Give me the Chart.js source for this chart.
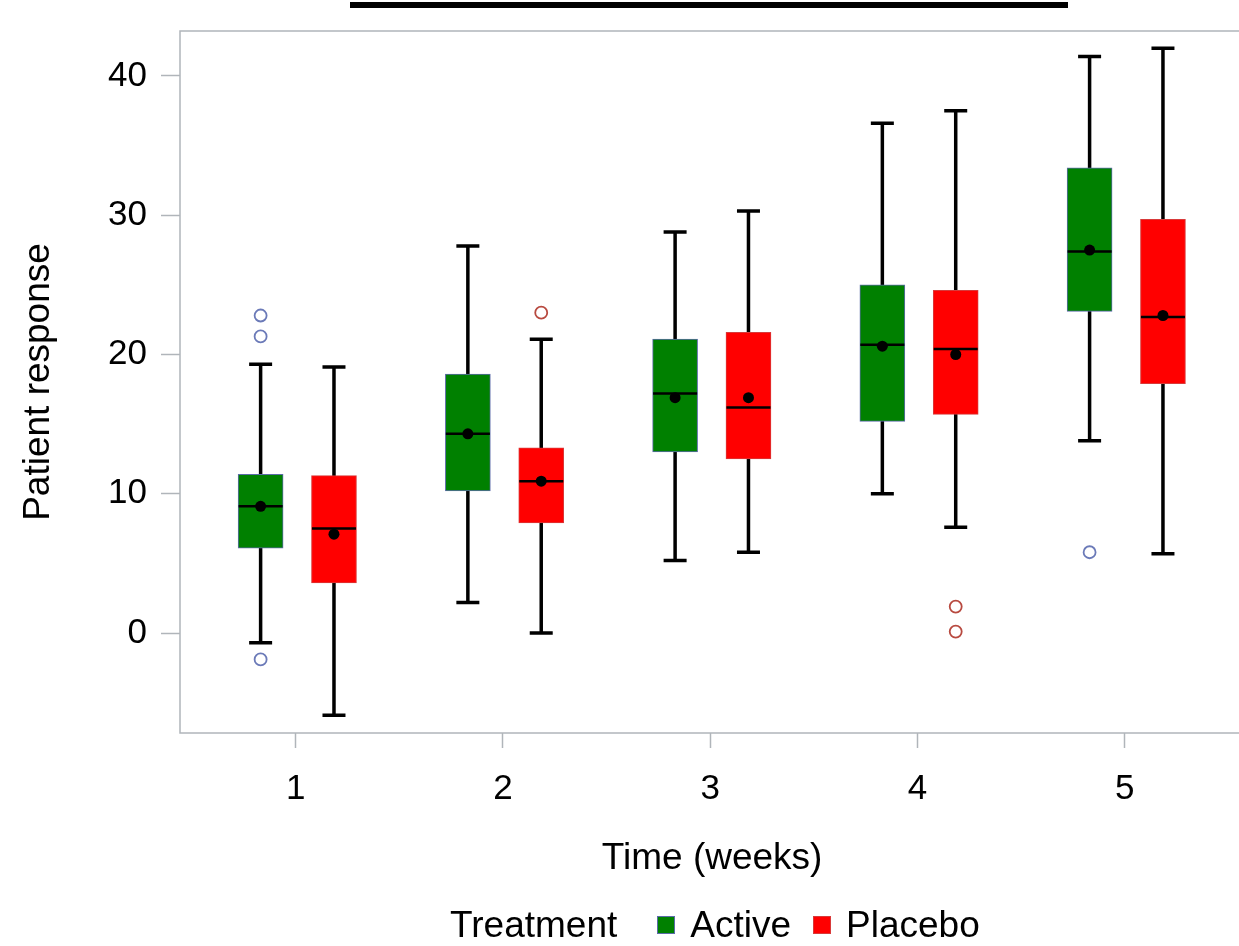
<!DOCTYPE html>
<html>
<head>
<meta charset="utf-8">
<script src="https://cdn.jsdelivr.net/npm/chart.js@4"></script>
<style>
  body { margin: 0; overflow: hidden; background: #fff; }
  #wrap { position: relative; width: 1252px; height: 946px; font-family: "Liberation Sans", Arial, sans-serif; }
  #topbar { position: absolute; left: 350px; top: 2px; width: 718px; height: 6px; background: #000; }
  #legend { position: absolute; left: 450px; top: 903px; height: 44px; display: flex; align-items: center; font-size: 37px; color: #000; white-space: nowrap; }
  #legend .sw { display: inline-block; width: 16px; height: 16px; border: 1px solid; margin-right: 15px; }
</style>
</head>
<body>
<div id="wrap">
  <canvas id="chart" width="1252" height="946"></canvas>
  <div id="topbar"></div>
  <div id="legend"></div>
</div>
<script>
// weeks on the x axis
const weeks = [1, 2, 3, 4, 5];
const yTicks = [0, 10, 20, 30, 40];

// Active treatment
const activeMin    = [-0.7, 2.2, 5.2, 10.0, 13.8];
const activeQ1     = [6.1, 10.2, 13.0, 15.2, 23.1];
const activeMedian = [9.1, 14.3, 17.2, 20.7, 27.4];
const activeQ3     = [11.4, 18.6, 21.1, 25.0, 33.4];
const activeMax    = [19.3, 27.8, 28.8, 36.6, 41.4];
const activeMean   = [9.1, 14.3, 16.9, 20.6, 27.5];
const activeOutliers = [[1, 22.8], [1, 21.3], [1, -1.9], [5, 5.8]];

// Placebo
const placeboMin    = [-5.9, 0.0, 5.8, 7.6, 5.7];
const placeboQ1     = [3.6, 7.9, 12.5, 15.7, 17.9];
const placeboMedian = [7.5, 10.9, 16.2, 20.4, 22.7];
const placeboQ3     = [11.3, 13.3, 21.6, 24.6, 29.7];
const placeboMax    = [19.1, 21.1, 30.3, 37.5, 42.0];
const placeboMean   = [7.1, 10.9, 16.9, 20.0, 22.8];
const placeboOutliers = [[2, 23.0], [4, 1.9], [4, 0.1]];

const groups = [
  { name: 'Active', offset: -0.169, fill: '#008000', edge: '#5b6ba8', dot: '#6b7ab8',
    min: activeMin, q1: activeQ1, med: activeMedian, q3: activeQ3, max: activeMax, mean: activeMean, out: activeOutliers },
  { name: 'Placebo', offset: 0.185, fill: '#ff0000', edge: '#d83a3a', dot: '#b84a40',
    min: placeboMin, q1: placeboQ1, med: placeboMedian, q3: placeboQ3, max: placeboMax, mean: placeboMean, out: placeboOutliers }
];

const FONT = '"Liberation Sans", Arial, sans-serif';
const GRAY = '#b0b5ba';

const datasets = [];
groups.forEach((g, gi) => {
  datasets.push({
    type: 'bar',
    label: g.name,
    data: weeks.map((w, i) => ({ x: w + g.offset, y: [g.q1[i], g.q3[i]] })),
    backgroundColor: g.fill,
    borderColor: g.edge,
    borderWidth: 1,
    borderSkipped: false,
    barThickness: 45,
    grouped: false,
    order: 3,
    groupIndex: gi
  });
});
groups.forEach(g => {
  datasets.push({
    type: 'scatter',
    label: g.name + ' mean',
    data: weeks.map((w, i) => ({ x: w + g.offset, y: g.mean[i] })),
    pointRadius: 5.5,
    pointBackgroundColor: '#000',
    pointBorderWidth: 0,
    order: 1
  });
  datasets.push({
    type: 'scatter',
    label: g.name + ' outliers',
    data: g.out.map(o => ({ x: o[0] + g.offset, y: o[1] })),
    pointRadius: 6,
    pointBackgroundColor: 'rgba(0,0,0,0)',
    pointBorderColor: g.dot,
    pointBorderWidth: 1.8,
    order: 1
  });
});

const boxParts = {
  id: 'boxParts',
  beforeDatasetsDraw(chart) {
    const { ctx, scales: { x, y } } = chart;
    ctx.save();
    ctx.strokeStyle = '#000';
    ctx.lineWidth = 3.5;
    groups.forEach(g => {
      weeks.forEach((w, i) => {
        const px = x.getPixelForValue(w + g.offset);
        const top = y.getPixelForValue(g.max[i]);
        const bot = y.getPixelForValue(g.min[i]);
        ctx.beginPath();
        ctx.moveTo(px, top); ctx.lineTo(px, bot);
        ctx.moveTo(px - 11.5, top); ctx.lineTo(px + 11.5, top);
        ctx.moveTo(px - 11.5, bot); ctx.lineTo(px + 11.5, bot);
        ctx.stroke();
      });
    });
    ctx.restore();
  },
  afterDatasetDraw(chart, args) {
    const ds = chart.data.datasets[args.index];
    if (ds.type !== 'bar') return;
    const g = groups[ds.groupIndex];
    const { ctx, scales: { x, y } } = chart;
    ctx.save();
    ctx.strokeStyle = '#000';
    ctx.lineWidth = 2.5;
    weeks.forEach((w, i) => {
      const px = x.getPixelForValue(w + g.offset);
      const py = y.getPixelForValue(g.med[i]);
      ctx.beginPath();
      ctx.moveTo(px - 22, py); ctx.lineTo(px + 22, py);
      ctx.stroke();
    });
    ctx.restore();
  },
  afterDraw(chart) {
    const { ctx, chartArea: a } = chart;
    ctx.save();
    ctx.strokeStyle = GRAY;
    ctx.lineWidth = 1.5;
    ctx.strokeRect(a.left, a.top, a.right - a.left, a.bottom - a.top);
    ctx.restore();
  }
};

Chart.defaults.font.family = FONT;
Chart.defaults.color = '#000';

new Chart(document.getElementById('chart'), {
  type: 'bar',
  data: { datasets },
  plugins: [boxParts],
  options: {
    responsive: false,
    animation: false,
    layout: { padding: { top: 31, left: 17, right: 0, bottom: 65 } },
    plugins: { legend: { display: false }, tooltip: { enabled: false } },
    scales: {
      x: {
        type: 'linear',
        offset: false,
        min: 0.442,
        max: 5.577,
        afterBuildTicks: s => { s.ticks = weeks.map(v => ({ value: v })); },
        afterFit: s => { s.height = 148; s.paddingLeft = 0; s.paddingRight = 0; },
        ticks: { font: { size: 35 }, padding: 20, maxRotation: 0 },
        grid: { offset: false, drawOnChartArea: false, drawTicks: true, tickLength: 15, tickColor: GRAY, tickWidth: 1.5 },
        border: { display: false },
        title: { display: true, text: 'Time (weeks)', font: { size: 37 }, padding: { top: 0, bottom: 0 } }
      },
      y: {
        type: 'linear',
        min: -7.18,
        max: 43.23,
        afterBuildTicks: s => { s.ticks = yTicks.map(v => ({ value: v })); },
        afterFit: s => { s.width = 163; s.paddingTop = 0; s.paddingBottom = 0; },
        ticks: { font: { size: 35 }, padding: 14 },
        grid: { drawOnChartArea: false, drawTicks: true, tickLength: 19, tickColor: GRAY, tickWidth: 1.5 },
        border: { display: false },
        title: { display: true, text: 'Patient response', font: { size: 37 }, padding: { top: 0, bottom: 0 } }
      }
    }
  }
});

// legend built from the groups
const legend = document.getElementById('legend');
let html = '<span style="margin-right:40px">Treatment</span>';
groups.forEach((g, i) => {
  html += `<span class="sw" style="background:${g.fill};border-color:${g.edge}"></span>` +
          `<span style="margin-right:${i === 0 ? 22 : 0}px">${g.name}</span>`;
});
legend.innerHTML = html;
</script>
</body>
</html>
